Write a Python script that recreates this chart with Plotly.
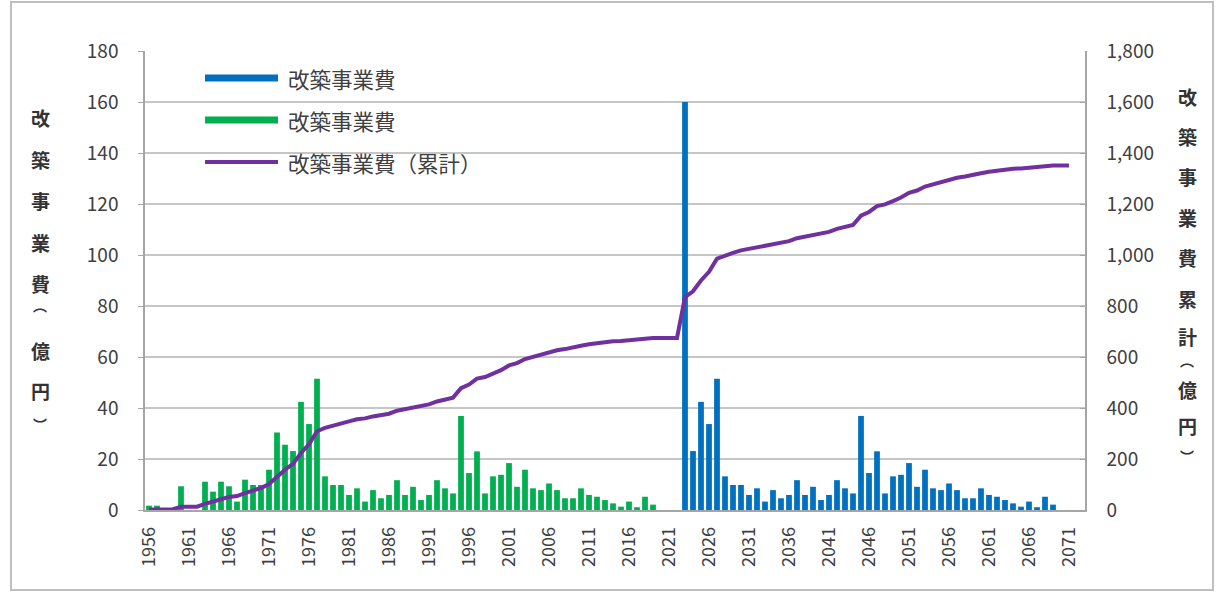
import numpy as np
import plotly.graph_objects as go

# ---- data -------------------------------------------------------------
years = list(range(1956, 2072))

# 改築事業費（億円）: 1956–2022 (green)
green_years = list(range(1956, 2023))
green_values = [
    1.7, 1.7, 0, 0, 9.3, 0, 0, 11.1, 7.2, 11.1,
    9.3, 3.3, 11.9, 9.8, 9.8, 15.8, 30.4, 25.6, 23.1, 42.4,
    33.7, 51.5, 13.2, 9.8, 9.8, 5.9, 8.5, 3.3, 7.8, 4.6,
    5.9, 11.7, 5.9, 9.1, 3.9, 5.9, 11.7, 8.5, 6.5, 36.9,
    14.5, 23.0, 6.5, 13.2, 13.8, 18.4, 9.1, 15.8, 8.5, 7.8,
    10.4, 7.8, 4.6, 4.6, 8.5, 5.9, 5.2, 3.9, 2.6, 1.3,
    3.3, 1.1, 5.2, 2.1, 0, 0, 0,
]

# 改築事業費（億円）: 2023–2071 (blue)
blue_years = list(range(2023, 2072))
blue_values = [
    160,
    23.1, 42.4, 33.7, 51.5, 13.2, 9.8, 9.8, 5.9, 8.5, 3.3,
    7.8, 4.6, 5.9, 11.7, 5.9, 9.1, 3.9, 5.9, 11.7, 8.5,
    6.5, 36.9, 14.5, 23.0, 6.5, 13.2, 13.8, 18.4, 9.1, 15.8,
    8.5, 7.8, 10.4, 7.8, 4.6, 4.6, 8.5, 5.9, 5.2, 3.9,
    2.6, 1.3, 3.3, 1.1, 5.2, 2.1,
    0, 0,
]

# 累計 (running total of the yearly costs)
cumulative = np.cumsum(np.array(green_values + blue_values, dtype=float))

x_tick_years = list(range(1956, 2072, 5))
series_names = ["改築事業費", "改築事業費", "改築事業費（累計）"]
left_title = ["改", "築", "事", "業", "費", "︵", "億", "円", "︶"]
right_title = ["改", "築", "事", "業", "費", "累", "計", "︵", "億", "円", "︶"]

# ---- styling ----------------------------------------------------------
W, H = 1218, 594
ML, MR, MT, MB = 145, 133, 51, 84
PW, PH = W - ML - MR, H - MT - MB

GREEN = "#00b050"
BLUE = "#0070c0"
PURPLE = "#7030a0"
TEXT = "#404040"
TITLE = "#333333"
GRID = "#c6c6c6"
AXIS = "#a6a6a6"
FONT = "Noto Sans CJK JP"


def px_x(px):
    return (px - ML) / PW


def px_y(py):
    return (H - MB - py) / PH


fig = go.Figure()

fig.add_trace(go.Bar(
    x=green_years, y=green_values, name=series_names[1],
    marker=dict(color=GREEN, line=dict(width=0)), width=0.72,
    showlegend=False,
))
fig.add_trace(go.Bar(
    x=blue_years, y=blue_values, name=series_names[0],
    marker=dict(color=BLUE, line=dict(width=0)), width=0.72,
    showlegend=False,
))
fig.add_trace(go.Scatter(
    x=years, y=cumulative, name=series_names[2], yaxis="y2",
    mode="lines", line=dict(color=PURPLE, width=4),
    showlegend=False,
))

annotations = []
shapes = []


def title_char(ch, px, py):
    # vertical-form brackets are set smaller than the kanji
    small = ch in ("︵", "︶")
    return dict(
        text=ch, x=px_x(px), y=px_y(py), xref="paper", yref="paper",
        xanchor="center", yanchor="middle", showarrow=False,
        font=dict(family=FONT, size=14 if small else 19, color=TITLE,
                  weight="bold"),
    )


# vertical axis titles, one character per row
left_rows = [118, 159, 201, 243, 283, 305, 350, 390, 424]
for ch, py in zip(left_title, left_rows):
    annotations.append(title_char(ch, 40, py))

right_rows = [96, 136, 176, 217, 257, 298, 337, 360, 389, 425, 456]
for ch, py in zip(right_title, right_rows):
    annotations.append(title_char(ch, 1187, py))

# legend drawn as line swatches with labels
legend_rows = [78, 120, 162]
legend_colors = [BLUE, GREEN, PURPLE]
legend_widths = [7, 7, 4]
for name, py, col, lw in zip(series_names, legend_rows, legend_colors, legend_widths):
    shapes.append(dict(
        type="line", xref="paper", yref="paper",
        x0=px_x(205), x1=px_x(278), y0=px_y(py), y1=px_y(py),
        line=dict(color=col, width=lw),
    ))
    annotations.append(dict(
        text=name, x=px_x(286), y=px_y(py), xref="paper", yref="paper",
        xanchor="left", yanchor="middle", showarrow=False,
        font=dict(family=FONT, size=21.5, color=TEXT),
    ))

# outer frame
shapes.append(dict(
    type="rect", xref="paper", yref="paper",
    x0=px_x(11), x1=px_x(1213), y0=px_y(590), y1=px_y(2),
    line=dict(color="#bfbfbf", width=2), layer="below",
))

fig.update_layout(
    width=W, height=H,
    margin=dict(l=ML, r=MR, t=MT, b=MB, pad=0),
    paper_bgcolor="white", plot_bgcolor="white",
    barmode="overlay", bargap=0.25,
    font=dict(family=FONT, color=TEXT),
    showlegend=False,
    annotations=annotations,
    shapes=shapes,
    xaxis=dict(
        range=[1955.5, 2073.0], tickmode="array", tickvals=x_tick_years,
        ticktext=[str(v) for v in x_tick_years],
        tickangle=-90, showgrid=False, zeroline=False,
        showline=True, linecolor=AXIS, linewidth=1.5, ticks="",
        tickfont=dict(family=FONT, size=18, color=TEXT),
        ticklabelstandoff=8,
    ),
    yaxis=dict(
        range=[0, 180], dtick=20, showgrid=True, gridcolor=GRID, gridwidth=1.5,
        zeroline=False, showline=True, linecolor=AXIS, linewidth=1.5,
        ticks="outside", ticklen=5, tickcolor=AXIS,
        tickfont=dict(family=FONT, size=19, color=TEXT),
        ticklabelstandoff=16,
    ),
    yaxis2=dict(
        range=[0, 1800], dtick=200, tickformat=",", overlaying="y", side="right",
        showgrid=False, zeroline=False, showline=True, linecolor=AXIS, linewidth=1.5,
        ticks="inside", ticklen=5, tickcolor=AXIS,
        tickfont=dict(family=FONT, size=19, color=TEXT),
        ticklabelstandoff=16,
    ),
)

fig.write_html("out.html")
